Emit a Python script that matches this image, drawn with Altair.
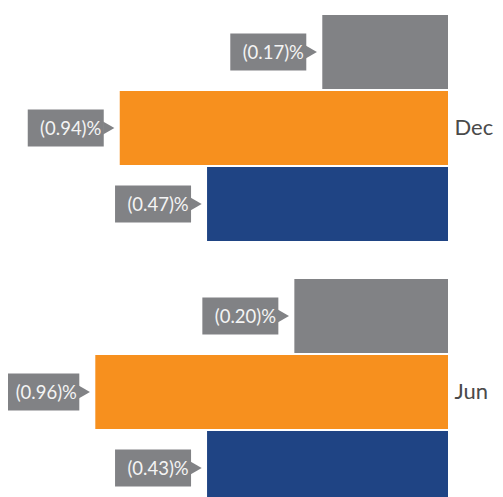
import altair as alt
import pandas as pd

months = ["Dec", "Jun"]
series = ["Series A", "Series B", "Series C"]
colors = ["#818285", "#F7901E", "#1F4484"]

# label values shown in the call-outs (percent)
dec_labels = [-0.17, -0.94, -0.47]
jun_labels = [-0.20, -0.96, -0.43]
# drawn bar extents
dec_bars = [-0.36, -0.94, -0.69]
jun_bars = [-0.44, -1.01, -0.69]

rows = []
for m, labs, bars in [("Dec", dec_labels, dec_bars), ("Jun", jun_labels, jun_bars)]:
    for s, lv, bv in zip(series, labs, bars):
        rows.append({"month": m, "series": s, "value": lv, "bar": bv,
                     "label": f"({abs(lv):.2f})%"})
df = pd.DataFrame(rows)

gray = "#818285"

base = alt.Chart(df).encode(
    y=alt.Y("month:N", sort=months,
            scale=alt.Scale(paddingInner=0.144, paddingOuter=0),
            axis=alt.Axis(orient="right", title=None, domain=False, ticks=False,
                          labelFont="Lato", labelFontSize=22, labelColor="#4a4a4a",
                          labelPadding=6, labelAlign="left", labelBaseline="middle")),
    yOffset=alt.YOffset("series:N", sort=series,
                        scale=alt.Scale(paddingInner=0.026, paddingOuter=0)),
)

xscale = alt.Scale(domain=[-1.26, 0], nice=False)

bars = base.mark_bar().encode(
    x=alt.X("bar:Q", scale=xscale, axis=None),
    color=alt.Color("series:N", scale=alt.Scale(domain=series, range=colors), legend=None),
)

boxes = base.mark_bar(color=gray, height=37, xOffset=-92, x2Offset=-16).encode(
    x=alt.X("bar:Q", scale=xscale, axis=None),
    x2="bar:Q",
)

arrows = base.mark_point(shape="triangle-right", filled=True, color=gray, opacity=1,
                         size=170, xOffset=-11).encode(
    x=alt.X("bar:Q", scale=xscale, axis=None),
)

texts = base.mark_text(font="Lato", fontSize=18.5, color="#f4f4f4", align="center",
                       baseline="middle", dx=-49, dy=1).encode(
    x=alt.X("bar:Q", scale=xscale, axis=None),
    text="label:N",
)

chart = alt.layer(bars, boxes, arrows, texts).properties(
    width=440, height=490,
    autosize=alt.AutoSizeParams(type="none"),
    padding={"left": 0, "top": 7, "right": 47, "bottom": 0},
).configure_view(stroke=None)

chart.save("out.html", embed_options={"renderer": "svg", "actions": False})
